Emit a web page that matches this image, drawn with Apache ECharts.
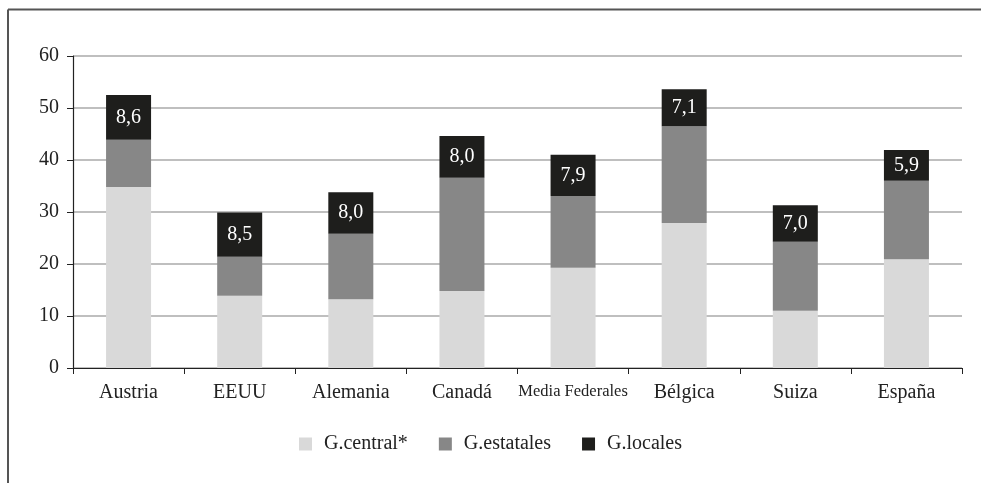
<!DOCTYPE html>
<html>
<head>
<meta charset="utf-8">
<script src="https://cdn.jsdelivr.net/npm/echarts@6/dist/echarts.min.js"></script>
<style>
  html, body { margin: 0; padding: 0; background: #fff; }
  #chart { width: 981px; height: 483px; }
</style>
</head>
<body>
<div id="chart"></div>
<script>
// Gasto por nivel de gobierno (% del PIB)
const categories = ['Austria', 'EEUU', 'Alemania', 'Canadá', 'Media Federales', 'Bélgica', 'Suiza', 'España'];
const gCentral   = [34.8, 13.9, 13.2, 14.8, 19.3, 27.9, 11.0, 20.9];
const gEstatales = [9.1, 7.5, 12.6, 21.8, 13.8, 18.6, 13.3, 15.1];
const gLocales   = [8.6, 8.5, 8.0, 8.0, 7.9, 7.1, 7.0, 5.9];
const seriesNames = ['G.central*', 'G.estatales', 'G.locales'];
const yTicks = [0, 10, 20, 30, 40, 50, 60];

const FONT = '"Liberation Serif", "DejaVu Serif", serif';
const TEXT = '#222';

const chart = echarts.init(document.getElementById('chart'), null, { renderer: 'canvas' });

const barBase = {
  type: 'bar',
  stack: 'total',
  barWidth: 45,
  emphasis: { disabled: true }
};

chart.setOption({
  animation: false,
  backgroundColor: '#fff',
  textStyle: { fontFamily: FONT, color: TEXT },
  graphic: [
    { type: 'line', shape: { x1: 8, y1: 9.5, x2: 981, y2: 9.5 }, style: { stroke: '#555', lineWidth: 2 } },
    { type: 'line', shape: { x1: 8, y1: 9.5, x2: 8, y2: 483 }, style: { stroke: '#555', lineWidth: 2 } }
  ],
  grid: { left: 73, right: 19, top: 56, bottom: 115, containLabel: false },
  legend: {
    bottom: 24,
    left: 'center',
    itemWidth: 13,
    itemHeight: 13,
    itemGap: 31,
    icon: 'rect',
    textStyle: { fontFamily: FONT, fontSize: 20, color: TEXT, padding: [0, 0, 0, 7] },
    data: seriesNames
  },
  xAxis: {
    type: 'category',
    data: categories,
    axisLine: { lineStyle: { color: '#222', width: 1.2 } },
    axisTick: { show: true, length: 6, lineStyle: { color: '#222' } },
    axisLabel: {
      margin: 15,
      fontFamily: FONT,
      fontSize: 20,
      color: TEXT,
      interval: 0,
      formatter: v => v === 'Media Federales' ? '{s|' + v + '}' : v,
      rich: { s: { fontFamily: FONT, fontSize: 16.5, color: TEXT } }
    }
  },
  yAxis: {
    type: 'value',
    min: yTicks[0],
    max: yTicks[yTicks.length - 1],
    interval: 10,
    axisLine: { show: true, lineStyle: { color: '#222', width: 1.2 } },
    axisTick: { show: true, length: 6, lineStyle: { color: '#222' } },
    axisLabel: { margin: 14, fontFamily: FONT, fontSize: 20, color: TEXT },
    splitLine: { show: true, lineStyle: { color: '#aaa', width: 1.5 } }
  },
  series: [
    Object.assign({}, barBase, { name: seriesNames[0], data: gCentral, itemStyle: { color: '#d9d9d9' } }),
    Object.assign({}, barBase, { name: seriesNames[1], data: gEstatales, itemStyle: { color: '#878787' } }),
    Object.assign({}, barBase, {
      name: seriesNames[2],
      data: gLocales,
      itemStyle: { color: '#1e1e1c' },
      label: {
        show: true,
        position: 'inside',
        fontFamily: FONT,
        fontSize: 20,
        color: '#fff',
        formatter: p => p.value.toFixed(1).replace('.', ',')
      }
    })
  ]
});
</script>
</body>
</html>
